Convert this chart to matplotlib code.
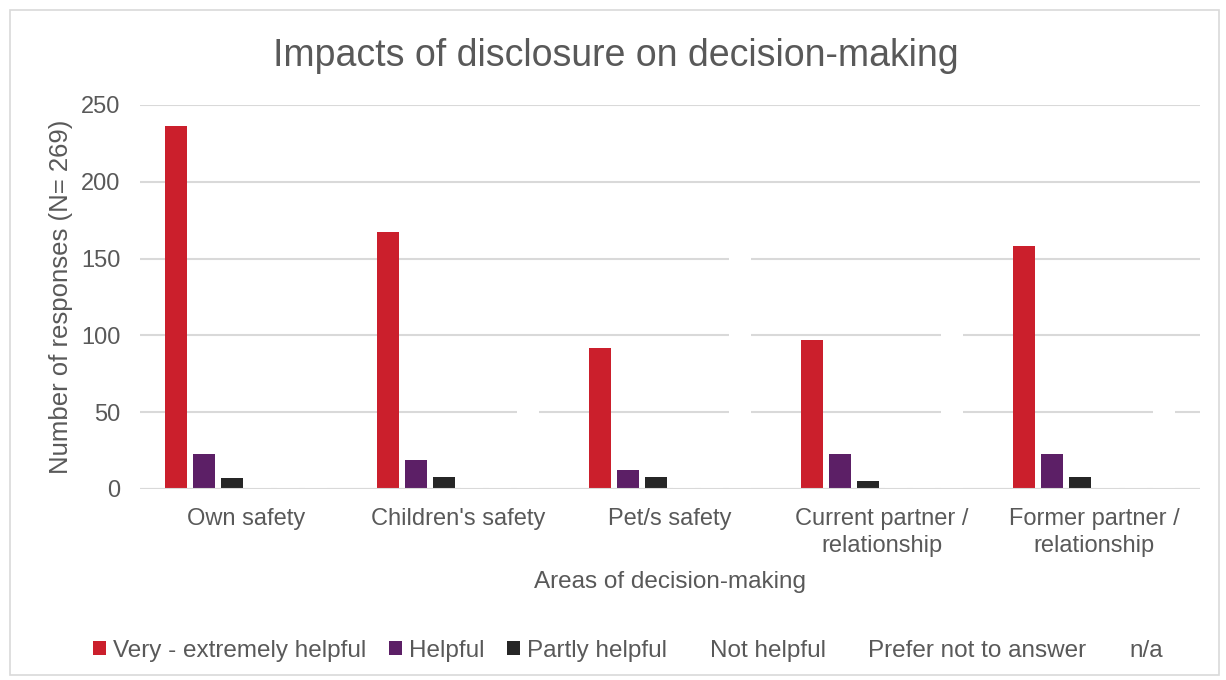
import numpy as np
import matplotlib.pyplot as plt
from matplotlib.patches import Rectangle

plt.rcParams['font.family'] = ['Liberation Sans', 'DejaVu Sans']

# Data
categories = ['Own safety', "Children's safety", 'Pet/s safety',
              'Current partner /\nrelationship', 'Former partner /\nrelationship']
series_names = ['Very - extremely helpful', 'Helpful', 'Partly helpful',
                'Not helpful', 'Prefer not to answer', 'n/a']
very_helpful = [236, 167, 92, 97, 158]
helpful = [23, 19, 12, 23, 23]
partly_helpful = [7, 8, 8, 5, 8]
not_helpful = [1, 1, 1, 2, 1]
prefer_not = [1, 1, 1, 1, 1]
not_applicable = [1, 73, 155, 141, 78]

values = [very_helpful, helpful, partly_helpful, not_helpful, prefer_not, not_applicable]
colors = ['#CB1F2C', '#5C1F66', '#262626', '#FFFFFF', '#FFFFFF', '#FFFFFF']
text_col = '#595959'

fig = plt.figure(figsize=(12.26, 6.8), dpi=100)
ax = fig.add_axes([0.1142, 0.281, 0.8646, 0.5647])

x = np.arange(len(categories)) + 0.5
step = 0.132
width = 0.104
for i, (name, vals, col) in enumerate(zip(series_names, values, colors)):
    ax.bar(x + (i - 2.5) * step, vals, width, color=col, label=name, zorder=2)

# horizontal axis line drawn over the bars, as in Excel
ax.axhline(0, color='#D9D9D9', linewidth=1.5, zorder=3)

ax.set_xlim(0, len(categories))
ax.set_ylim(0, 250)
ax.set_yticks(range(0, 251, 50))
ax.set_xticks(x)
ax.set_xticklabels(categories, fontsize=17, color=text_col, linespacing=1.3)
ax.tick_params(axis='y', labelsize=17, labelcolor=text_col, length=0, pad=14)
ax.tick_params(axis='x', length=0, pad=14)
ax.grid(axis='y', color='#D9D9D9', linewidth=1.5, zorder=0)
ax.set_axisbelow(True)
for s in ax.spines.values():
    s.set_visible(False)

ax.set_xlabel('Areas of decision-making', fontsize=17.5, color=text_col, labelpad=10)
ax.set_ylabel('Number of responses (N= 269)', fontsize=18.5, color=text_col, labelpad=6)
fig.text(0.502, 0.918, 'Impacts of disclosure on decision-making', fontsize=27,
         color=text_col, ha='center', va='center')

handles, labels = ax.get_legend_handles_labels()
fig.legend(handles, labels, loc='center', bbox_to_anchor=(0.512, 0.043), ncol=6,
           frameon=False, fontsize=17.5, labelcolor=text_col, handlelength=0.55,
           handleheight=0.55, handletextpad=0.3, columnspacing=0.9)

# outer chart border
fig.patches.append(Rectangle((0.008, 0.008), 0.986, 0.978, transform=fig.transFigure,
                             fill=False, edgecolor='#D9D9D9', linewidth=1.2))

fig.savefig('out.png', dpi=100)
